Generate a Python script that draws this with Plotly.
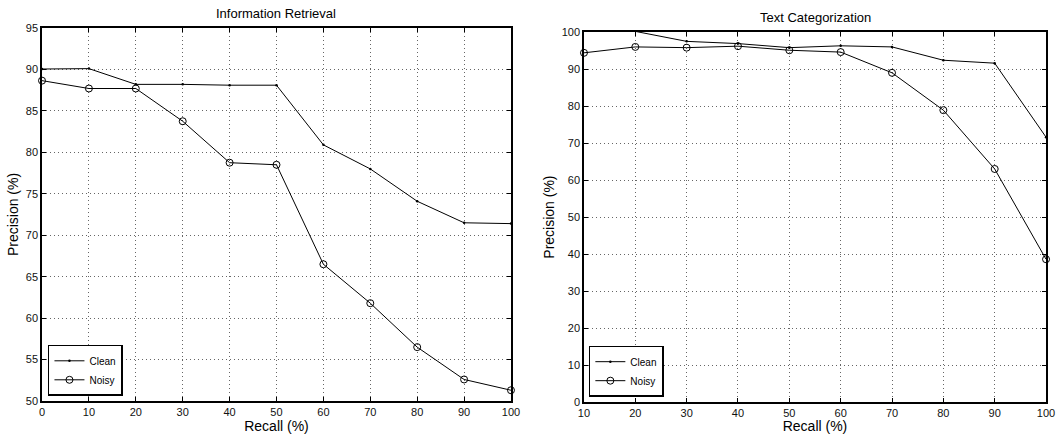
import plotly.graph_objects as go

recall_ir = [0, 10, 20, 30, 40, 50, 60, 70, 80, 90, 100]
ir_clean = [90.05, 90.1, 88.2, 88.2, 88.1, 88.1, 80.9, 78.0, 74.1, 71.5, 71.4]
ir_noisy = [88.65, 87.7, 87.7, 83.75, 78.75, 78.5, 66.5, 61.8, 56.5, 52.6, 51.3]

recall_tc = [10, 20, 30, 40, 50, 60, 70, 80, 90, 100]
tc_clean = [100.2, 100.2, 97.5, 96.9, 95.8, 96.3, 96.0, 92.4, 91.6, 71.6]
tc_noisy = [94.4, 96.0, 95.8, 96.2, 95.1, 94.6, 89.0, 78.9, 63.0, 38.6]

titles = ["Information Retrieval", "Text Categorization"]
FONT = "Liberation Sans, Arial, sans-serif"

fig = go.Figure()

def add_pair(x, yc, yn, xa, ya, leg):
    fig.add_trace(go.Scatter(x=x, y=yc, name="Clean", mode="lines+markers",
                             line=dict(color="black", width=1),
                             marker=dict(symbol="circle", size=2.5, color="black"),
                             xaxis=xa, yaxis=ya, legend=leg, cliponaxis=True))
    fig.add_trace(go.Scatter(x=x, y=yn, name="Noisy", mode="lines+markers",
                             line=dict(color="black", width=1),
                             marker=dict(symbol="circle-open", size=7, color="black",
                                         line=dict(width=1)),
                             xaxis=xa, yaxis=ya, legend=leg, cliponaxis=False))

add_pair(recall_ir, ir_clean, ir_noisy, "x", "y", "legend")
add_pair(recall_tc, tc_clean, tc_noisy, "x2", "y2", "legend2")

axis_common = dict(showline=True, linecolor="black", linewidth=1.5, mirror="ticks",
                   ticks="inside", ticklen=4, tickcolor="black", automargin=False,
                   showgrid=True, gridcolor="#666666", griddash="1px,3px", gridwidth=1,
                   zeroline=False, tickfont=dict(family=FONT, size=11, color="#111111"))

fig.update_layout(
    width=1061, height=434,
    margin=dict(l=0, r=0, t=0, b=0),
    paper_bgcolor="white", plot_bgcolor="white",
    font=dict(family=FONT, color="black"),
    xaxis=dict(domain=[0.0396, 0.4816], anchor="y", range=[0, 100], dtick=10,
               title=dict(text="Recall (%)", font=dict(size=14), standoff=2), **axis_common),
    yaxis=dict(domain=[0.076, 0.9355], anchor="x", range=[50, 95], dtick=5,
               title=dict(text="Precision (%)", font=dict(size=14), standoff=4), **axis_common),
    xaxis2=dict(domain=[0.5504, 0.9859], anchor="y2", range=[10, 100], dtick=10,
                title=dict(text="Recall (%)", font=dict(size=14), standoff=2), **axis_common),
    yaxis2=dict(domain=[0.0737, 0.926], anchor="x2", range=[0, 100], dtick=10,
                title=dict(text="Precision (%)", font=dict(size=14), standoff=4), **axis_common),
    legend=dict(x=0.0452, y=0.088, xanchor="left", yanchor="bottom",
                bordercolor="black", borderwidth=1.5, bgcolor="white",
                font=dict(family=FONT, size=10), tracegroupgap=0, itemwidth=30,
                entrywidth=30),
    legend2=dict(x=0.555, y=0.086, xanchor="left", yanchor="bottom",
                 bordercolor="black", borderwidth=1.5, bgcolor="white",
                 font=dict(family=FONT, size=10), tracegroupgap=0, itemwidth=30,
                 entrywidth=30),
    annotations=[
        dict(text=titles[0], x=0.2606, y=1 - 13 / 434, xref="paper", yref="paper",
             xanchor="center", showarrow=False, font=dict(family=FONT, size=13),
             yanchor="middle"),
        dict(text=titles[1], x=0.7682, y=1 - 17 / 434, xref="paper", yref="paper",
             xanchor="center", showarrow=False, font=dict(family=FONT, size=13),
             yanchor="middle"),
    ],
)

fig.write_html("out.html", config={"displayModeBar": False},
               post_script="document.body.style.margin='0px';document.body.style.overflow='hidden';")
